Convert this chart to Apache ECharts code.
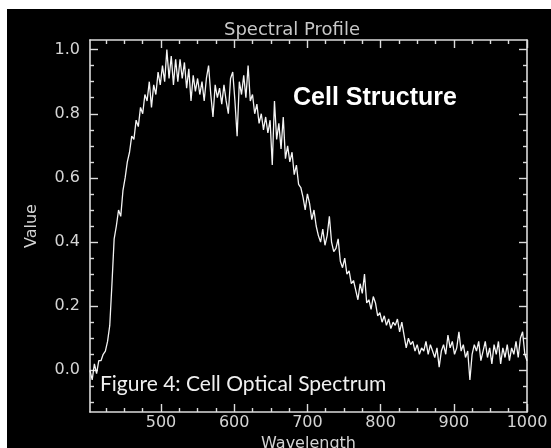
<!DOCTYPE html>
<html>
<head>
<meta charset="utf-8">
<script src="https://cdn.jsdelivr.net/npm/echarts@6/dist/echarts.min.js"></script>
<style>
html,body{margin:0;padding:0;background:#fff;}
#chart{width:551px;height:448px;}
</style>
</head>
<body>
<div id="chart"></div>
<script>
// Wavelengths (nm)
var wavelengths = [
403,406,409,412,415,418,421,424,427,430,433,436,439,442,445,448,451,454,457,460,
463,466,469,472,475,478,481,484,487,490,493,496,499,502,505,508,511,514,517,520,
523,526,529,532,535,538,541,544,547,550,553,556,559,562,565,568,571,574,577,580,
583,586,589,592,595,598,601,604,607,610,613,616,619,622,625,628,631,634,637,640,
643,646,649,652,655,658,661,664,667,670,673,676,679,682,685,688,691,694,697,700,
703,706,709,712,715,718,721,724,727,730,733,736,739,742,745,748,751,754,757,760,
763,766,769,772,775,778,781,784,787,790,793,796,799,802,805,808,811,814,817,820,
823,826,829,832,835,838,841,844,847,850,853,856,859,862,865,868,871,874,877,880,
883,886,889,892,895,898,901,904,907,910,913,916,919,922,925,928,931,934,937,940,
943,946,949,952,955,958,961,964,967,970,973,976,979,982,985,988,991,994,997,1000
];
// Spectral values
var values = [
0.00,-0.03,0.02,-0.01,0.03,0.03,0.05,0.06,0.09,0.14,0.27,0.41,0.45,0.50,0.48,0.56,0.60,0.65,0.68,0.73,
0.72,0.78,0.76,0.82,0.80,0.86,0.84,0.90,0.82,0.89,0.86,0.93,0.89,0.95,0.90,1.00,0.91,0.98,0.89,0.97,
0.90,0.97,0.91,0.96,0.88,0.94,0.84,0.92,0.87,0.91,0.86,0.90,0.84,0.91,0.95,0.86,0.79,0.89,0.85,0.88,
0.83,0.89,0.84,0.80,0.91,0.93,0.84,0.73,0.90,0.86,0.92,0.85,0.95,0.84,0.86,0.80,0.83,0.77,0.80,0.75,
0.79,0.74,0.78,0.64,0.84,0.72,0.77,0.69,0.79,0.66,0.70,0.65,0.68,0.61,0.64,0.58,0.57,0.54,0.50,0.55,
0.52,0.47,0.50,0.45,0.42,0.40,0.44,0.39,0.42,0.48,0.40,0.37,0.38,0.41,0.34,0.32,0.35,0.30,0.31,0.27,
0.28,0.25,0.22,0.27,0.24,0.30,0.21,0.22,0.19,0.23,0.21,0.17,0.18,0.15,0.17,0.14,0.16,0.13,0.15,0.14,
0.16,0.12,0.15,0.11,0.07,0.10,0.08,0.09,0.06,0.08,0.05,0.07,0.06,0.09,0.05,0.08,0.06,0.04,0.07,0.01,
0.06,0.08,0.05,0.11,0.07,0.09,0.05,0.07,0.12,0.06,0.08,0.04,0.06,-0.03,0.05,0.08,0.06,0.09,0.03,0.06,
0.09,0.04,0.07,0.02,0.08,0.05,0.09,0.02,0.07,0.04,0.08,0.03,0.07,0.05,0.09,0.04,0.10,0.12,0.05,0.03
];
var xMajorTicks = [500,600,700,800,900,1000];
var xMinorTicks = [425,450,475,525,550,575,625,650,675,725,750,775,825,850,875,925,950,975];
var yMajorTicks = [0.0,0.2,0.4,0.6,0.8,1.0];
var yMinorTicks = [-0.1,-0.05,0.05,0.1,0.15,0.25,0.3,0.35,0.45,0.5,0.55,0.65,0.7,0.75,0.85,0.9,0.95];

var X_MIN = 403, X_MAX = 1000, Y_MIN = -0.13, Y_MAX = 1.03;
var lineCol = '#dcdcdc', textCol = '#d4d4d4';
var font = 'DejaVu Sans';

function xAxisDef(pos, ticks, len, labels, line, extra){
  var a = {
    type:'value', position:pos, min:X_MIN, max:X_MAX, gridIndex:0,
    axisLine:{show:line, onZero:false, lineStyle:{color:lineCol, width:1.6}},
    axisTick:{show:true, inside:true, length:len, customValues:ticks, lineStyle:{color:lineCol, width:1.4}},
    axisLabel:{show:labels, customValues:ticks, color:textCol, fontFamily:font, fontSize:16, margin:3,
      formatter:function(v){return String(Math.round(v));}},
    splitLine:{show:false}
  };
  if (extra) for (var k in extra) a[k]=extra[k];
  return a;
}
function yAxisDef(pos, ticks, len, labels, line, extra){
  var a = {
    type:'value', position:pos, min:Y_MIN, max:Y_MAX, gridIndex:0,
    axisLine:{show:line, onZero:false, lineStyle:{color:lineCol, width:1.6}},
    axisTick:{show:true, inside:true, length:len, customValues:ticks, lineStyle:{color:lineCol, width:1.4}},
    axisLabel:{show:labels, customValues:ticks, color:textCol, fontFamily:font, fontSize:16, margin:10,
      formatter:function(v){return (Math.abs(v)<1e-9?0:v).toFixed(1);}},
    splitLine:{show:false}
  };
  if (extra) for (var k in extra) a[k]=extra[k];
  return a;
}

var data = wavelengths.map(function(w,i){return [w, values[i]];});

var chart = echarts.init(document.getElementById('chart'), null, {renderer:'canvas'});
chart.setOption({
  backgroundColor:'#000',
  animation:false,
  title:{text:'Spectral Profile', left:292, top:21, padding:0, textAlign:'center',
    textStyle:{color:'#c8c8c8', fontFamily:font, fontSize:18, fontWeight:'normal'}},
  grid:{left:90, right:24, top:40, bottom:36, containLabel:false, outerBoundsMode:'none'},
  xAxis:[
    xAxisDef('bottom', xMajorTicks, 8, true, true,
      {name:'Wavelength', nameLocation:'middle', nameGap:21,
       nameTextStyle:{color:textCol, fontFamily:font, fontSize:16}}),
    xAxisDef('bottom', xMinorTicks, 4, false, false),
    xAxisDef('top', xMajorTicks, 8, false, true),
    xAxisDef('top', xMinorTicks, 4, false, false)
  ],
  yAxis:[
    yAxisDef('left', yMajorTicks, 8, true, true,
      {name:'Value', nameLocation:'middle', nameGap:50, nameRotate:90,
       nameTextStyle:{color:textCol, fontFamily:font, fontSize:16}}),
    yAxisDef('left', yMinorTicks, 4, false, false),
    yAxisDef('right', yMajorTicks, 8, false, true),
    yAxisDef('right', yMinorTicks, 4, false, false)
  ],
  series:[{
    type:'line', xAxisIndex:0, yAxisIndex:0, data:data,
    showSymbol:false, symbol:'none', smooth:false, clip:true,
    lineStyle:{color:'#f4f4f4', width:1.3}
  }],
  graphic:[
    {type:'rect', left:0, top:0, shape:{width:551, height:9}, style:{fill:'#fff'}, silent:true, z:100},
    {type:'rect', left:0, top:0, shape:{width:7, height:448}, style:{fill:'#fff'}, silent:true, z:100},
    {type:'text', left:293, top:86, silent:true, z:50,
      style:{text:'Cell Structure', fill:'#fff', font:'bold 25px "Liberation Sans", Arial, sans-serif'}},
    {type:'text', left:100, top:374, silent:true, z:50,
      style:{text:'Figure 4: Cell Optical Spectrum', fill:'#f0f0f0', font:'21px Lato, "Open Sans", sans-serif'}}
  ]
});
</script>
</body>
</html>
